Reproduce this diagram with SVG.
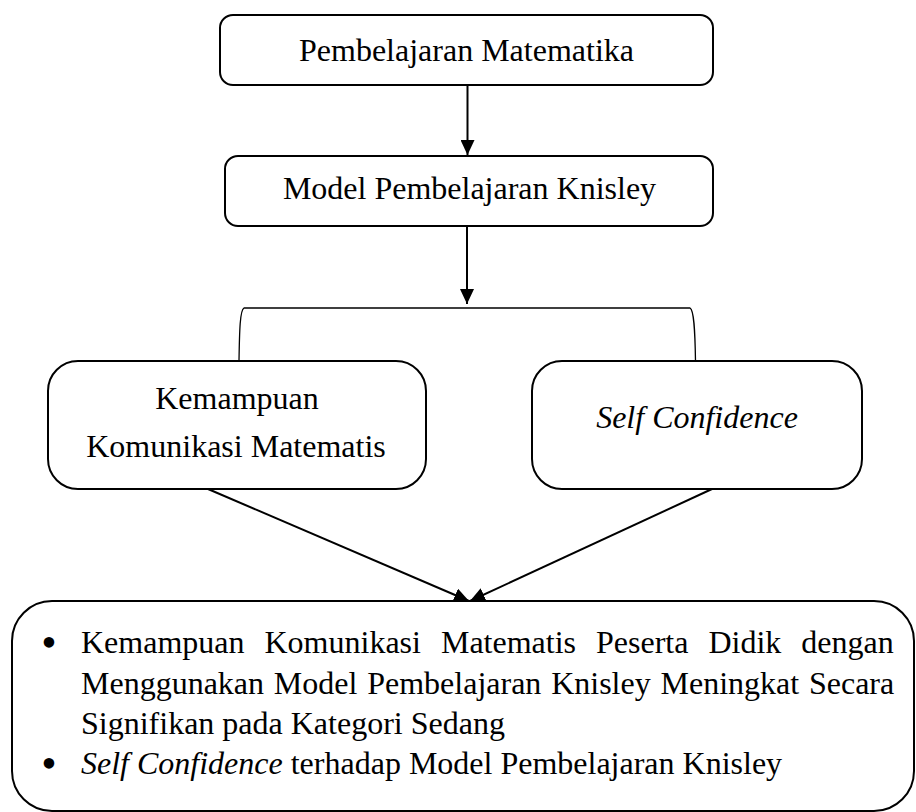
<svg xmlns="http://www.w3.org/2000/svg" width="916" height="812" viewBox="0 0 916 812">
  <defs>
    <style>
      .box { fill: #ffffff; stroke: #000000; stroke-width: 2; }
      .t { font-family: "Liberation Serif", "Times New Roman", serif; font-size: 32px; fill: #000000; }
      .c { text-anchor: middle; }
      .i { font-style: italic; }
      .bl { font-family: "Liberation Serif", "Times New Roman", serif; font-size: 44px; text-anchor: middle; fill: #000000; }
      .ln { stroke: #000000; stroke-width: 2; fill: none; }
      .br { stroke: #000000; stroke-width: 1.3; fill: none; }
    </style>
    <marker id="ah" markerUnits="userSpaceOnUse" markerWidth="15" markerHeight="14" refX="15" refY="7" orient="auto" viewBox="0 0 15 14">
      <path d="M0,0 L15,7 L0,14 Z" fill="#000000"/>
    </marker>
  </defs>
  <rect width="916" height="812" fill="#ffffff"/>

  <g id="connectors">
    <line class="ln" x1="467.5" y1="85" x2="467.5" y2="155" marker-end="url(#ah)"/>
    <line class="ln" x1="467" y1="226" x2="467" y2="304" marker-end="url(#ah)"/>
    <path class="br" d="M239,361 C239.5,330 240,310 244,308 L690,308 C694,310 695,330 695.5,361"/>
    <line class="ln" x1="208" y1="489" x2="469" y2="601" marker-end="url(#ah)"/>
    <line class="ln" x1="712" y1="489" x2="470" y2="601" marker-end="url(#ah)"/>
  </g>

  <g id="node-pembelajaran">
    <rect class="box" x="220" y="15" width="493" height="70" rx="13"/>
    <text class="t c" x="466.5" y="61">Pembelajaran Matematika</text>
  </g>

  <g id="node-model">
    <rect class="box" x="225" y="156" width="488" height="70" rx="13"/>
    <text class="t c" x="469.5" y="199">Model Pembelajaran Knisley</text>
  </g>

  <g id="node-kemampuan">
    <rect class="box" x="48" y="361" width="378" height="128" rx="30"/>
    <text class="t c" x="237" y="409">Kemampuan</text>
    <text class="t c" x="236" y="457">Komunikasi Matematis</text>
  </g>

  <g id="node-self-confidence">
    <rect class="box" x="532" y="361" width="330" height="128" rx="30"/>
    <text class="t c i" x="697" y="428">Self Confidence</text>
  </g>

  <g id="node-hasil">
    <rect class="box" x="12" y="601" width="902" height="210" rx="40"/>
    <text class="bl" x="49" y="657">•</text>
    <text class="t" x="81" y="653" word-spacing="12">Kemampuan Komunikasi Matematis Peserta Didik dengan</text>
    <text class="t" x="81" y="693.5" word-spacing="1.8">Menggunakan Model Pembelajaran Knisley Meningkat Secara</text>
    <text class="t" x="81" y="734">Signifikan pada Kategori Sedang</text>
    <text class="bl" x="49" y="778">•</text>
    <text class="t" x="81" y="774"><tspan class="i">Self Confidence</tspan> terhadap Model Pembelajaran Knisley</text>
  </g>
</svg>
